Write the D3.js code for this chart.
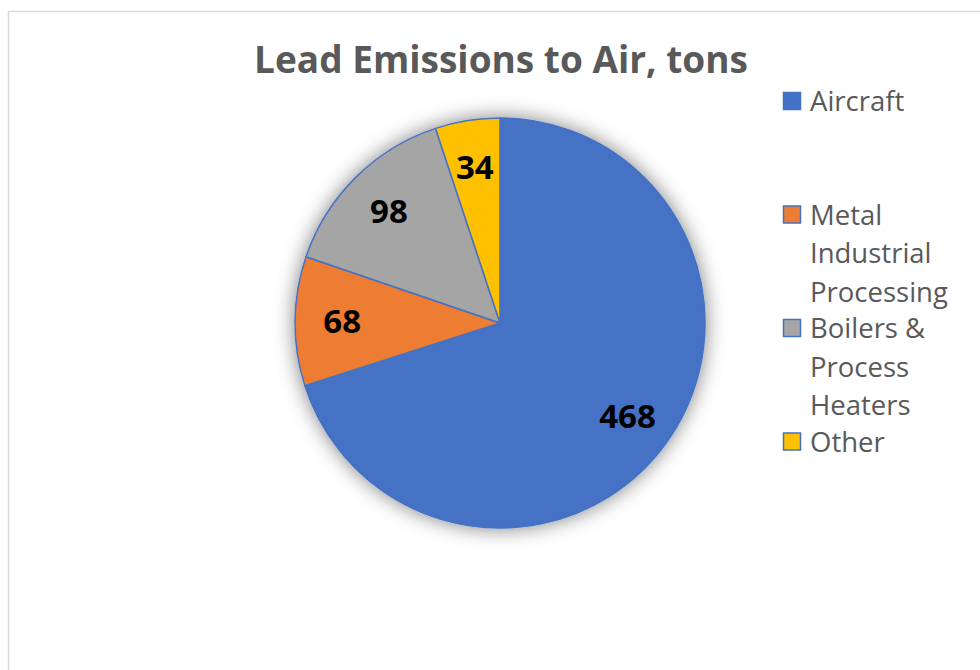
<!DOCTYPE html>
<html>
<head>
<meta charset="utf-8">
<script src="https://cdn.jsdelivr.net/npm/d3@7"></script>
<style>
  body { margin: 0; background: #fff; }
  svg { display: block; }
  text { font-family: "Open Sans", "Noto Sans", sans-serif; }
</style>
</head>
<body>
<div id="chart"></div>
<script>
// data
var categories = ["Aircraft", "Metal Industrial Processing", "Boilers & Process Heaters", "Other"];
var values = [468, 68, 98, 34];
var colors = ["#4472C4", "#ED7D31", "#A5A5A5", "#FFC000"];
var title = "Lead Emissions to Air, tons";

var width = 980, height = 670;
var cx = 500, cy = 323, radius = 205;

var svg = d3.select("#chart").append("svg")
    .attr("width", width)
    .attr("height", height);

// outer chart border (runs off the right / bottom edge)
svg.append("rect")
    .attr("x", 8.5).attr("y", 11.5)
    .attr("width", 1000).attr("height", 700)
    .attr("fill", "#fff")
    .attr("stroke", "#d9d9d9")
    .attr("stroke-width", 1.5);

// soft shadow behind the pie
var defs = svg.append("defs");
var filt = defs.append("filter")
    .attr("id", "shadow")
    .attr("x", "-30%").attr("y", "-30%")
    .attr("width", "160%").attr("height", "160%");
filt.append("feGaussianBlur").attr("in", "SourceAlpha").attr("stdDeviation", 10).attr("result", "blur");
filt.append("feFlood").attr("flood-color", "#000").attr("flood-opacity", 0.5);
filt.append("feComposite").attr("in2", "blur").attr("operator", "in").attr("result", "sh");
var merge = filt.append("feMerge");
merge.append("feMergeNode").attr("in", "sh");
merge.append("feMergeNode").attr("in", "SourceGraphic");

svg.append("text")
    .attr("x", 501).attr("y", 73)
    .attr("text-anchor", "middle")
    .attr("font-size", 37)
    .attr("font-weight", "bold")
    .attr("fill", "#595959")
    .text(title);

var color = d3.scaleOrdinal().domain(categories).range(colors);

var pie = d3.pie().sort(null).value(function(d){ return d.val; });
var pieData = pie(categories.map(function(c, i){ return {cat: c, val: values[i]}; }));

var arc = d3.arc().innerRadius(0).outerRadius(radius);
var labelArc = d3.arc().innerRadius(radius * 0.77).outerRadius(radius * 0.77);

var pieG = svg.append("g")
    .attr("transform", "translate(" + cx + "," + cy + ")");

pieG.append("g")
    .attr("filter", "url(#shadow)")
    .selectAll("path")
    .data(pieData)
    .join("path")
    .attr("d", arc)
    .attr("fill", function(d){ return color(d.data.cat); })
    .attr("stroke", "#4472C4")
    .attr("stroke-width", 1.5)
    .attr("stroke-linejoin", "round");

pieG.selectAll(".label")
    .data(pieData)
    .join("text")
    .attr("class", "label")
    .attr("transform", function(d){ return "translate(" + labelArc.centroid(d) + ")"; })
    .attr("text-anchor", "middle")
    .attr("dy", "0.36em")
    .attr("font-size", 33)
    .attr("font-weight", "bold")
    .attr("fill", "#000")
    .text(function(d){ return d.data.val; });

// legend: fixed slot per entry, names wrapped to the legend width
var legendX = 783, legendTop = 111, slotH = 113.5, lineH = 38.5, maxW = 150;
var legend = svg.append("g");

categories.forEach(function(c, i){
    var g = legend.append("g")
        .attr("transform", "translate(" + legendX + "," + (legendTop + i * slotH) + ")");
    g.append("rect")
        .attr("x", 0.5).attr("y", -18.5)
        .attr("width", 17).attr("height", 17)
        .attr("fill", color(c))
        .attr("stroke", "#4472C4")
        .attr("stroke-width", 1.5);
    var t = g.append("text")
        .attr("x", 27).attr("y", 0)
        .attr("font-size", 27.5)
        .attr("fill", "#595959");
    // greedy word wrap
    var words = c.split(" "), line = [];
    var ts = t.append("tspan").attr("x", 27).attr("dy", 0);
    words.forEach(function(w){
        line.push(w);
        ts.text(line.join(" "));
        if (ts.node().getComputedTextLength() > maxW && line.length > 1) {
            line.pop();
            ts.text(line.join(" "));
            line = [w];
            ts = t.append("tspan").attr("x", 27).attr("dy", lineH).text(w);
        }
    });
});
</script>
</body>
</html>
